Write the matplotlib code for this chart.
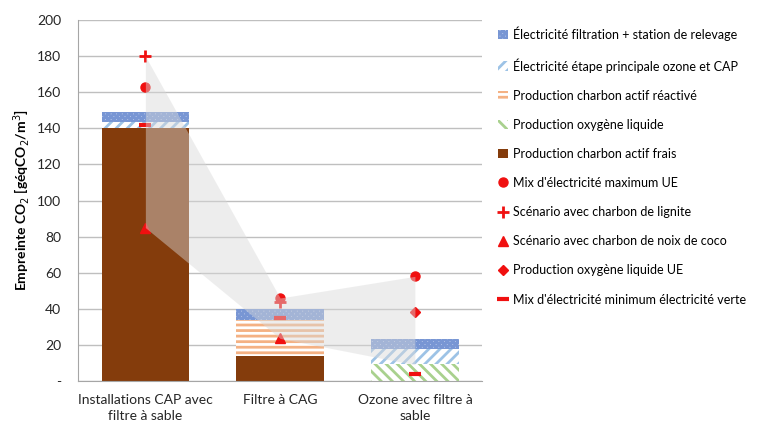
import numpy as np
import matplotlib
matplotlib.use("Agg")
import matplotlib.pyplot as plt
from matplotlib.patches import Patch
from matplotlib.lines import Line2D

# donnees (gCO2eq/m3)
categories = ["Installations CAP avec\nfiltre à sable", "Filtre à CAG", "Ozone avec filtre à\nsable"]
charbon_frais = [140, 14, 0]
oxygene_liquide = [0, 0, 9.4]
charbon_reactive = [0, 20, 0]
elec_principale = [3.6, 0, 8.3]
elec_filtration = [5.3, 5.7, 5.6]

mix_max_ue = [163, 46, 58]
lignite = [180, 44, np.nan]
noix_coco = [85, 23.6, np.nan]
oxygene_ue = [np.nan, np.nan, 38]
mix_min_vert = [142, 35, 4]

plage_haut = [180, 46, 58]
plage_bas = [85, 23.6, 9]

plt.rcParams['font.family'] = ['Lato', 'DejaVu Sans']
plt.rcParams['hatch.linewidth'] = 2.0

fig = plt.figure(figsize=(7.6, 4.4), dpi=100)
ax = fig.add_axes([0.1026, 0.134, 0.532, 0.8205])

x = np.arange(len(categories))
w = 0.65

series = [
    (charbon_frais, "Production charbon actif frais", dict(color="#843C0C")),
    (oxygene_liquide, "Production oxygène liquide", dict(facecolor="white", edgecolor="#A9D18E", hatch="\\\\\\")),
    (charbon_reactive, "Production charbon actif réactivé", dict(facecolor="white", edgecolor="#F4B183", hatch="---")),
    (elec_principale, "Électricité étape principale ozone et CAP", dict(facecolor="white", edgecolor="#9DC3E6", hatch="///")),
    (elec_filtration, "Électricité filtration + station de relevage", dict(facecolor="#B4C5E8", edgecolor="#7896D4", hatch="xxxxxx")),
]

bas = np.zeros(len(categories))
poignees = []
for vals, nom, style in series:
    vals = np.array(vals, dtype=float)
    ax.bar(x, vals, w, bottom=bas, linewidth=0, zorder=2, **style)
    bas += vals
    poignees.append(Patch(linewidth=0, label=nom, **style))
poignees = poignees[::-1]

rouge = "#F01010"
marqueurs = [
    (mix_max_ue, "Mix d'électricité maximum UE", dict(marker="o", markersize=6.5)),
    (lignite, "Scénario avec charbon de lignite", dict(marker="+", markersize=9, markeredgewidth=2)),
    (noix_coco, "Scénario avec charbon de noix de coco", dict(marker="^", markersize=7)),
    (oxygene_ue, "Production oxygène liquide UE", dict(marker="D", markersize=5)),
    (mix_min_vert, "Mix d'électricité minimum électricité verte", dict(marker="_", markersize=9, markeredgewidth=3)),
]
for vals, nom, style in marqueurs:
    ax.plot(x, vals, linestyle="none", color=rouge, zorder=3, **style)
    poignees.append(Line2D([], [], linestyle="none", color=rouge, label=nom, **style))

# zone grise entre min et max
ax.fill_between(x, plage_bas, plage_haut, color="#D9D9D9", alpha=0.45, linewidth=0, zorder=4)

ax.set_xlim(-0.5, 2.5)
ax.set_ylim(0, 200)
ax.set_yticks(range(0, 201, 20))
ax.set_yticklabels(["-"] + [str(v) for v in range(20, 201, 20)])
ax.set_xticks(x)
ax.set_xticklabels(categories, linespacing=1.4)
ax.tick_params(length=0, labelsize=10, colors="#262626")
ax.tick_params(axis="y", pad=12)
ax.tick_params(axis="x", pad=9)
ax.grid(axis="y", color="#BFBFBF", linewidth=1, zorder=0)
ax.set_axisbelow(True)
for s in ["top", "right"]:
    ax.spines[s].set_visible(False)
for s in ["left", "bottom"]:
    ax.spines[s].set_color("#A6A6A6")
ax.set_ylabel("Empreinte CO$_2$ [géqCO$_2$/m$^3$]", fontsize=10, fontweight="bold", labelpad=4)

fig.legend(handles=poignees, loc="upper left", bbox_to_anchor=(0.655, 0.94), frameon=False,
           fontsize=9, labelspacing=1.37, handlelength=0.8, handleheight=0.8, handletextpad=0.4,
           borderpad=0, borderaxespad=0)

fig.savefig("out.png", dpi=100)
